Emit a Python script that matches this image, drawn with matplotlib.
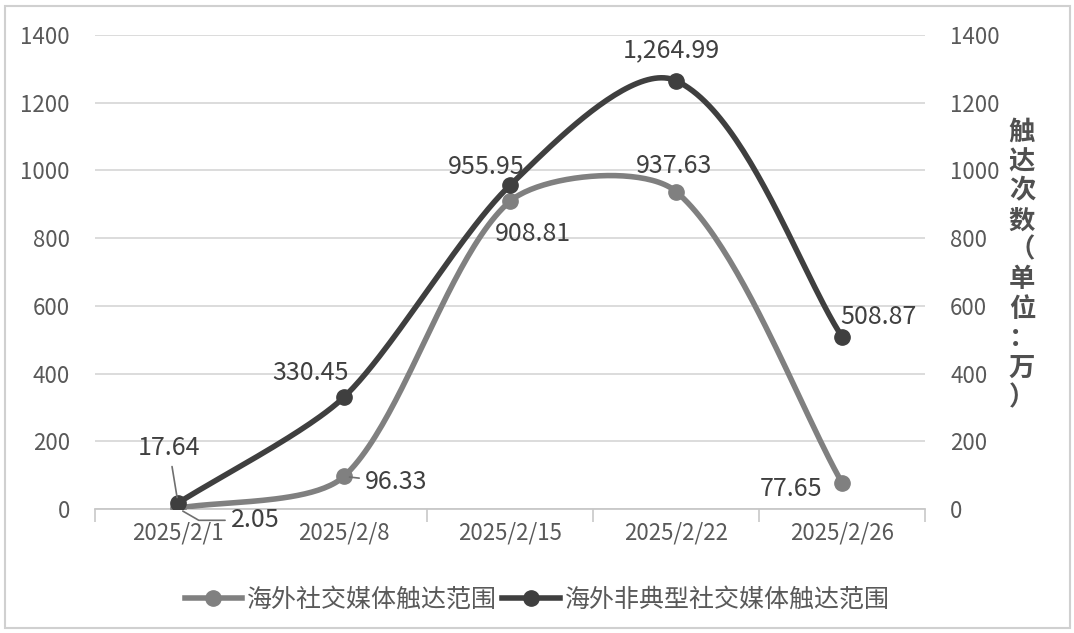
import numpy as np
import matplotlib
matplotlib.use("Agg")
import matplotlib.pyplot as plt
from matplotlib.patches import Rectangle
from matplotlib.lines import Line2D

plt.rcParams['font.family'] = ['Noto Sans CJK SC', 'DejaVu Sans']

dates = ["2025/2/1", "2025/2/8", "2025/2/15", "2025/2/22", "2025/2/26"]
social = [2.05, 96.33, 908.81, 937.63, 77.65]
atypical = [17.64, 330.45, 955.95, 1264.99, 508.87]
social_name = "海外社交媒体触达范围"
atypical_name = "海外非典型社交媒体触达范围"
y_title = "触达次数（单位：万）"
y_ticks = [0, 200, 400, 600, 800, 1000, 1200, 1400]

light = "#808080"
dark = "#3f3f3f"
txt = "#595959"


def smooth(ax, xs, ys, f=0.25, n=50):
	# office-like smoothed line: bezier whose handles follow the
	# neighbour direction, scaled by segment length (in pixel space)
	pts = ax.transData.transform(np.column_stack([xs, ys]))
	m = len(pts)
	tang = []
	for i in range(m):
		a = pts[max(i - 1, 0)]
		b = pts[min(i + 1, m - 1)]
		d = b - a
		tang.append(d / np.hypot(*d))
	t = np.linspace(0, 1, n)[:, None]
	out = []
	for i in range(m - 1):
		p0, p3 = pts[i], pts[i + 1]
		L = np.hypot(*(p3 - p0))
		c1 = p0 + tang[i] * L * f
		c2 = p3 - tang[i + 1] * L * f
		b = (1 - t) ** 3 * p0 + 3 * (1 - t) ** 2 * t * c1 + 3 * (1 - t) * t ** 2 * c2 + t ** 3 * p3
		out.append(b)
	out = np.vstack(out)
	back = ax.transData.inverted().transform(out)
	return back[:, 0], back[:, 1]


fig = plt.figure(figsize=(10.74, 6.33), dpi=100)
fig.patches.append(Rectangle((5 / 1074, 5 / 633), 1065 / 1074, 622 / 633,
	transform=fig.transFigure, fill=False, edgecolor="#d0d0d0", lw=1.5))

ax = fig.add_axes([95 / 1074, 1 - 509 / 633, 830 / 1074, 474 / 633])
x = np.arange(len(dates))
ax.set_xlim(-0.5, len(dates) - 0.5)
ax.set_ylim(0, 1400)

for ys, col, z in [(social, light, 3), (atypical, dark, 4)]:
	sx, sy = smooth(ax, x, ys)
	ax.plot(sx, sy, color=col, lw=4, zorder=z, solid_capstyle="round")
	ax.plot(x, ys, "o", color=col, ms=11, zorder=z)

ax.set_yticks(y_ticks)
ax.set_xticks(x)
ax.set_xticklabels(dates)
ax.set_xticks(np.arange(-0.5, len(dates), 1), minor=True)
ax.tick_params(axis="x", which="major", length=0, pad=9, labelsize=16, labelcolor=txt)
ax.tick_params(axis="x", which="minor", length=9, color="#c8c8c8", width=1.2, direction="out")
ax.tick_params(axis="y", length=0, pad=18, labelsize=16, labelcolor=txt)
ax.grid(axis="y", color="#d9d9d9", lw=1.3)
ax.set_axisbelow(True)
for s in ["top", "right", "left"]:
	ax.spines[s].set_visible(False)
ax.spines["bottom"].set_color("#c8c8c8")
ax.spines["bottom"].set_linewidth(1.3)

ax2 = ax.twinx()
ax2.set_ylim(0, 1400)
ax2.set_yticks(y_ticks)
ax2.tick_params(axis="y", length=0, pad=18, labelsize=16, labelcolor=txt)
for s in ax2.spines.values():
	s.set_visible(False)

fig.text(1022 / 1074, 1 - 265 / 633, "\n".join(y_title), ha="center", va="center",
	fontsize=19, fontweight="heavy", color="#505050", linespacing=1.12)

# data labels: (series, index, offset px, leader connection or None)
labels = [
	(atypical, 0, (-9, 55), "arc3"),
	(social, 0, (77, -12), "angle,angleA=0,angleB=-30,rad=0"),
	(social, 1, (52, -6), "arc3"),
	(atypical, 1, (-33, 24), None),
	(atypical, 2, (-24, 18), None),
	(social, 2, (23, -33), None),
	(atypical, 3, (-5, 30), None),
	(social, 3, (-2, 26), None),
	(atypical, 4, (36, 20), None),
	(social, 4, (-51, -6), None),
]
for ys, i, off, conn in labels:
	v = ys[i]
	s = f"{v:,.2f}"
	ap = None
	if conn:
		ap = dict(arrowstyle="-", color="#6f6f6f", lw=1.2, shrinkA=2, shrinkB=4,
			connectionstyle=conn)
	ax.annotate(s, xy=(i, v), xytext=off, textcoords="offset pixels",
		ha="center", va="center", fontsize=18, color="#404040",
		arrowprops=ap, zorder=6)

handles = [
	Line2D([], [], color=light, lw=4, marker="o", ms=11),
	Line2D([], [], color=dark, lw=4, marker="o", ms=11),
]
fig.legend(handles, [social_name, atypical_name], loc="center",
	bbox_to_anchor=(0.5, 1 - 600 / 633), ncol=2, frameon=False,
	fontsize=18, labelcolor=txt, handlelength=2.3, handletextpad=0.2,
	columnspacing=0.2)

fig.savefig("out.png", dpi=100)
